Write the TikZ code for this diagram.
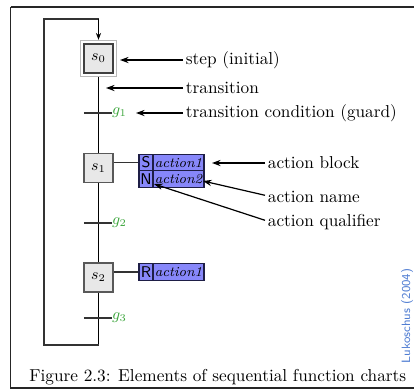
\documentclass[tikz,border=0pt]{standalone}
\usetikzlibrary{arrows.meta,fit}
\definecolor{guardgreen}{RGB}{60,165,60}
\definecolor{actfill}{RGB}{135,135,250}
\definecolor{actdraw}{RGB}{30,30,70}
\definecolor{citeblue}{RGB}{80,125,210}
\tikzset{
  px/.style={x=0.58pt,y=-0.58pt},
  stepbox/.style={draw=gray!70!black,fill=gray!18,minimum size=16.8pt,inner sep=0pt,line width=0.7pt,font=\small},
  initbox/.style={draw=gray!55,line width=0.6pt,inner sep=1.6pt},
  flow/.style={line width=0.7pt},
  loopline/.style={line width=0.8pt,gray!40!black},
  tick/.style={line width=0.8pt,gray!40!black},
  guard/.style={text=guardgreen,font=\small,anchor=west,inner sep=1pt},
  qual/.style={draw=actdraw,fill=actfill,line width=0.7pt,minimum width=8.1pt,minimum height=9.6pt,inner sep=0pt,font=\sffamily\small},
  aname/.style={draw=actdraw,fill=actfill,line width=0.7pt,minimum width=29.6pt,minimum height=9.6pt,inner sep=0pt,font=\footnotesize\itshape},
  lbl/.style={anchor=west,inner sep=1.5pt},
  pointer/.style={-{Stealth[length=5pt,width=3.6pt]},line width=0.7pt},
}
\begin{document}
\begin{tikzpicture}[px]
\useasboundingbox (0,0) rectangle (414,390);
% frame
\draw[line width=0.9pt,gray!30!black] (10.5,7) -- (430,7) (10.5,7) -- (10.5,388) -- (430,388);
% steps
\node[stepbox,draw=gray!50!black,line width=1.1pt] (s0) at (98.5,58.5) {$s_0$};
\node[initbox,fit=(s0)] (s0o) {};
\node[stepbox] (s1) at (98.5,168) {$s_1$};
\node[stepbox] (s2) at (98.5,277.5) {$s_2$};
% transitions
\coordinate (t1) at (98.5,113);
\coordinate (t2) at (98.5,223);
\coordinate (t3) at (98.5,318);
\coordinate (lb) at (98.5,345);
\coordinate (lbl) at (44,345);
\coordinate (ltl) at (44,19);
\coordinate (ltr) at (98.5,19);
\draw[flow] (s0o.south) -- (s1.north);
\draw[flow] (s1.south) -- (s2.north);
\draw[flow] (s2.south) -- (lb);
\draw[loopline] (lb) -- (lbl) -- (ltl) -- (ltr);
\draw[flow,-{Stealth[length=4pt,width=3pt]}] (ltr) -- (s0o.north);
\foreach \t in {t1,t2,t3} \draw[tick] ([xshift=-8.5]\t) -- ([xshift=8]\t);
\node[guard] (g1) at (110,113) {$g_1$};
\node[guard] (g2) at (110,223) {$g_2$};
\node[guard] (g3) at (110,318) {$g_3$};
% action blocks
\node[qual] (a1q) at (146,162.5) {S};
\node[aname] (a1n) at (178.5,162.5) {action1};
\node[qual] (a2q) at (146,179) {N};
\node[aname] (a2n) at (178.5,179) {action2};
\node[qual] (a3q) at (146,272) {R};
\node[aname] (a3n) at (178.5,272) {action1};
\draw[loopline] (s1.east |- a1q.west) -- (a1q.west);
\draw[loopline] (s2.east |- a3q.west) -- (a3q.west);
% annotations
\node[lbl] (l1) at (183,60) {step (initial)};
\node[lbl] (l2) at (183,88) {transition};
\node[lbl] (l3) at (183,113) {transition condition (guard)};
\node[lbl] (l4) at (265,163) {action block};
\node[lbl] (l5) at (265,197) {action name};
\node[lbl] (l6) at (265,222) {action qualifier};
\coordinate (p1) at (120,60);
\coordinate (p2) at (106,88);
\coordinate (p3) at (136,113);
\coordinate (p4) at (212,163);
\coordinate (p5) at (203,181);
\coordinate (p6) at (154,184);
\draw[pointer] (l1.west) -- (p1);
\draw[pointer] (l2.west) -- (p2);
\draw[pointer] (l3.west) -- (p3);
\draw[pointer] (l4.west) -- (p4);
\draw[pointer] ([yshift=1]l5.west) -- (p5);
\draw[pointer] ([yshift=1]l6.west) -- (p6);
% caption
\node[anchor=west,inner sep=0pt] (cap) at (29,377) {Figure 2.3: Elements of sequential function charts};
\node[rotate=90,text=citeblue,font=\sffamily\scriptsize,inner sep=0pt] (cite) at (407,316) {Lukoschus (2004)};
\end{tikzpicture}
\end{document}
